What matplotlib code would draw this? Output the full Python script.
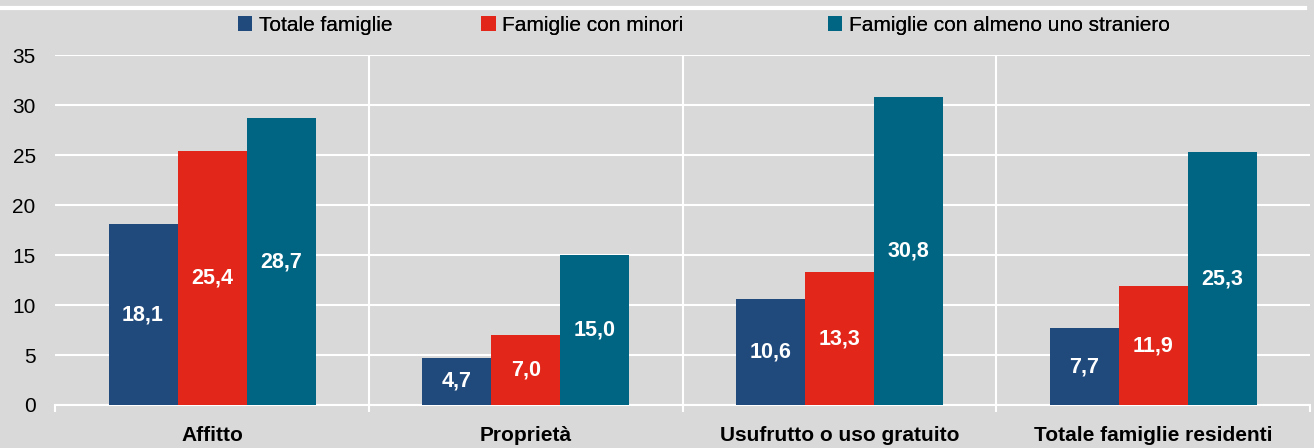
import matplotlib.pyplot as plt
import numpy as np
from matplotlib.lines import Line2D

categorie = ['Affitto', 'Proprietà', 'Usufrutto o uso gratuito', 'Totale famiglie residenti']
serie = ['Totale famiglie', 'Famiglie con minori', 'Famiglie con almeno uno straniero']
totale = [18.1, 4.7, 10.6, 7.7]
minori = [25.4, 7.0, 13.3, 11.9]
stranieri = [28.7, 15.0, 30.8, 25.3]
colori = ['#214a7c', '#e3261a', '#006582']

plt.rcParams['font.family'] = ['Liberation Sans Narrow', 'Liberation Sans', 'DejaVu Sans']

fig = plt.figure(figsize=(13.14, 4.48), dpi=100)
fig.patch.set_facecolor('#d9d9d9')
ax = fig.add_axes([0.042, 0.096, 0.955, 0.781])
ax.set_facecolor('#d9d9d9')

x = np.arange(len(categorie))
w = 0.22
handles = []
for i, (vals, nome) in enumerate(zip([totale, minori, stranieri], serie)):
    bars = ax.bar(x + (i - 1) * w, vals, w, color=colori[i], label=nome, zorder=3)
    handles.append(bars)
    for b, v in zip(bars, vals):
        ax.text(b.get_x() + b.get_width() / 2, v / 2, f'{v:.1f}'.replace('.', ','),
                ha='center', va='center', color='white', fontsize=15.5,
                fontweight='bold', zorder=4)

ax.set_xlim(-0.5, len(categorie) - 0.5)
ax.set_ylim(0, 35)
ax.set_yticks(range(0, 36, 5))
ax.yaxis.grid(True, color='white', linewidth=1.5, zorder=0)
for s in [0.5, 1.5, 2.5]:
    ax.axvline(s, color='white', linewidth=1.5, zorder=0)
ax.set_xticks(x)
ax.set_xticklabels(categorie, fontsize=15, fontweight='bold')
ax.set_xticks([-0.5, 0.5, 1.5, 2.5, 3.5], minor=True)
ax.tick_params(axis='x', which='major', length=0, pad=15)
ax.tick_params(axis='x', which='minor', length=5, color='white', width=1.5)
ax.tick_params(axis='y', length=0, labelsize=15, pad=14)
for sp in ['top', 'right', 'left']:
    ax.spines[sp].set_visible(False)
ax.spines['bottom'].set_color('white')
ax.spines['bottom'].set_linewidth(1.5)

# legenda: una voce per posizione, come nell'originale
pos_legenda = [0.181, 0.366, 0.630]
for h, nome, px in zip(handles, serie, pos_legenda):
    leg = fig.legend([h], [nome], loc='center left', bbox_to_anchor=(px, 0.943),
                     frameon=False, fontsize=15, handlelength=0.7, handleheight=0.7,
                     handletextpad=0.3, borderpad=0, borderaxespad=0)
    fig.add_artist(leg)

fig.add_artist(Line2D([0, 0.993], [0.982, 0.982], color='white', linewidth=3,
                      transform=fig.transFigure))

fig.savefig('out.png', dpi=100, facecolor=fig.get_facecolor())
